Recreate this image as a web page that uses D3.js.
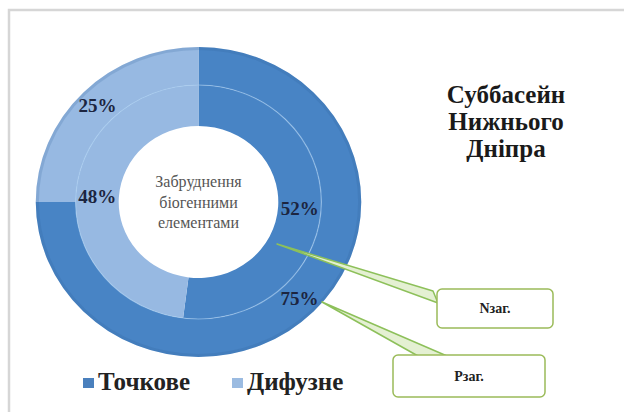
<!DOCTYPE html>
<html>
<head>
<meta charset="utf-8">
<script src="https://cdn.jsdelivr.net/npm/d3@7"></script>
</head>
<body style="margin:0">
<svg id="chart" width="624" height="412"></svg>
<script>
// дані
var categories = ["Точкове", "Дифузне"];
var nValues = [52, 48];   // внутрішнє кільце - Nзаг.
var pValues = [75, 25];   // зовнішнє кільце - Pзаг.
var ringNames = ["Nзаг.", "Pзаг."];
var titleLines = ["Суббасейн", "Нижнього", "Дніпра"];
var centerLines = ["Забруднення", "біогенними", "елементами"];

var FONT = "'Liberation Serif'";

var colors = d3.scaleOrdinal().domain(categories).range(["#4884c5", "#97b9e2"]);
var legendColors = d3.scaleOrdinal().domain(categories).range(["#4a80bd", "#9bbbe1"]);

var svg = d3.select("#chart");

// рамка області діаграми
svg.append("rect")
    .attr("x", 9).attr("y", 10).attr("width", 640).attr("height", 420)
    .attr("fill", "#fff")
    .attr("stroke", "#d6d6d6")
    .attr("stroke-width", 2.5);

var cx = 198.5, cy = 202, sx = 1.05;
var rHole = 76, rMid = 117, rOut = 155;

var pie = d3.pie().sort(null).value(function(d){ return d; });
var arcIn = d3.arc().innerRadius(rHole).outerRadius(rMid);
var arcOut = d3.arc().innerRadius(rMid).outerRadius(rOut);

var g = svg.append("g")
    .attr("transform", "translate(" + cx + "," + cy + ") scale(" + sx + ",1)");

var outerData = pie(pValues);
var innerData = pie(nValues);

g.selectAll("path.outer")
    .data(outerData)
  .enter().append("path")
    .attr("class", "outer")
    .attr("d", arcOut)
    .attr("fill", function(d, i){ return colors(categories[i]); });

g.selectAll("path.inner")
    .data(innerData)
  .enter().append("path")
    .attr("class", "inner")
    .attr("d", arcIn)
    .attr("fill", function(d, i){ return colors(categories[i]); });

// тонка світла лінія між кільцями
g.append("circle")
    .attr("r", rMid)
    .attr("fill", "none")
    .attr("stroke", "#a9cdf0")
    .attr("stroke-opacity", 0.6)
    .attr("stroke-width", 1.2);

// темніший край зовнішнього кільця
g.append("circle")
    .attr("r", rOut - 1.5)
    .attr("fill", "none")
    .attr("stroke", "#2f5f95")
    .attr("stroke-opacity", 0.18)
    .attr("stroke-width", 3);

// підписи відсотків
function pctLabel(data, arc){
  svg.append("g").selectAll("text")
      .data(data)
    .enter().append("text")
      .style("font-family", FONT)
      .attr("x", function(d){ return cx + arc.centroid(d)[0] * sx; })
      .attr("y", function(d){ return cy + arc.centroid(d)[1]; })
      .attr("dy", "0.35em")
      .attr("text-anchor", "middle")
      .attr("font-size", 19)
      .attr("font-weight", "bold")
      .attr("fill", "#1c2540")
      .text(function(d){ return d.data + "%"; });
}
pctLabel(outerData, arcOut);
pctLabel(innerData, arcIn);

// текст у центрі
svg.append("g").selectAll("text")
    .data(centerLines)
  .enter().append("text")
    .style("font-family", FONT)
    .attr("x", cx)
    .attr("y", function(d, i){ return 187 + i * 20.5; })
    .attr("text-anchor", "middle")
    .attr("font-size", 16)
    .attr("fill", "#555")
    .text(function(d){ return d; });

// заголовок
svg.append("g").selectAll("text")
    .data(titleLines)
  .enter().append("text")
    .style("font-family", FONT)
    .attr("x", 506)
    .attr("y", function(d, i){ return 103 + i * 27; })
    .attr("text-anchor", "middle")
    .attr("font-size", 25)
    .attr("font-weight", "bold")
    .attr("fill", "#1a1a1a")
    .text(function(d){ return d; });

// виноски
var callouts = [
  { name: ringNames[0], tip: [277, 244], base: [[433, 291], [438, 303]], box: [437, 289, 116, 39] },
  { name: ringNames[1], tip: [322, 302], base: [[418, 356], [447, 356]], box: [393, 355, 152, 42] }
];
var cg = svg.append("g");
callouts.forEach(function(c){
  cg.append("path")
    .attr("d", "M" + c.tip + "L" + c.base[0] + "L" + c.base[1] + "Z")
    .attr("fill", "#e4f0d2")
    .attr("stroke", "#8dc05a")
    .attr("stroke-width", 1.5)
    .attr("stroke-linejoin", "round");
  cg.append("rect")
    .attr("x", c.box[0]).attr("y", c.box[1])
    .attr("width", c.box[2]).attr("height", c.box[3])
    .attr("rx", 5)
    .attr("fill", "#fff")
    .attr("stroke", "#9bbb59")
    .attr("stroke-width", 1.5);
  cg.append("text")
    .style("font-family", FONT)
    .attr("x", c.box[0] + c.box[2] / 2)
    .attr("y", c.box[1] + c.box[3] / 2)
    .attr("dy", "0.35em")
    .attr("text-anchor", "middle")
    .attr("font-size", 14)
    .attr("font-weight", "bold")
    .attr("fill", "#222")
    .text(c.name);
});

// легенда
var legendX = [83, 232];
var lg = svg.append("g").selectAll("g")
    .data(categories)
  .enter().append("g")
    .attr("transform", function(d, i){ return "translate(" + legendX[i] + ",378)"; });
lg.append("rect")
    .attr("width", 11).attr("height", 10)
    .attr("fill", function(d){ return legendColors(d); });
lg.append("text")
    .style("font-family", FONT)
    .attr("x", 15)
    .attr("y", 12)
    .attr("font-size", 25)
    .attr("font-weight", "bold")
    .attr("fill", "#222")
    .text(function(d){ return d; });
</script>
</body>
</html>
